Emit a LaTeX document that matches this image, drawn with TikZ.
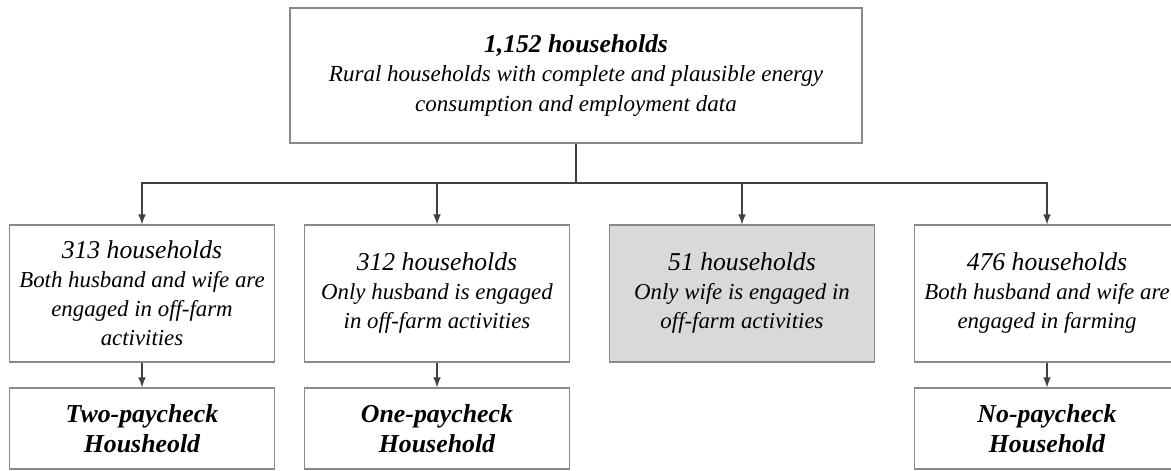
\documentclass[tikz,border=0pt]{standalone}
\usepackage{fontspec}
\setmainfont{Liberation Serif}
\definecolor{boxgray}{HTML}{8A8A8A}
\definecolor{linegray}{HTML}{404040}
\definecolor{fillgray}{HTML}{D9D9D9}
\newcommand{\headsize}{\fontsize{14.6}{16.5}\selectfont}

\begin{document}
\begin{tikzpicture}[
    box/.style={draw=boxgray, line width=0.6pt, minimum width=5.3cm, minimum height=2.74cm,
      align=center, font=\itshape\fontsize{13}{16.5}\selectfont},
    result/.style={box, minimum height=1.62cm, font=\bfseries\itshape\fontsize{14.7}{17}\selectfont},
    arr/.style={-latex, draw=linegray, line width=1pt}]
      \clip (0, 0) rectangle (23.42, -9.4);

      \node[box, minimum width=11.44cm, minimum height=2.7cm, font=\itshape\fontsize{13.1}{17}\selectfont] (0) at (11.52, -1.51)
        {{\headsize\bfseries 1,152 households}\\Rural households with complete and plausible energy\\consumption and employment data};

      \node[box] (1) at (2.84, -5.87)
        {{\headsize 313 households}\\Both husband and wife are\\engaged in off-farm\\activities};
      \node[box] (2) at (8.74, -5.87)
        {{\headsize 312 households}\\Only husband is engaged\\in off-farm activities};
      \node[box, fill=fillgray] (3) at (14.84, -5.87)
        {{\headsize 51 households}\\Only wife is engaged in\\off-farm activities};
      \node[box] (4) at (20.94, -5.87)
        {{\headsize 476 households}\\Both husband and wife are\\engaged in farming};

      \node[result] (5) at (2.84, -8.57) {Two-paycheck\\Housheold};
      \node[result] (6) at (8.74, -8.57) {One-paycheck\\Household};
      \node[result] (7) at (20.94, -8.57) {No-paycheck\\Household};

      \coordinate (b) at (11.52, -3.66);
      \draw[linegray, line width=1pt] (0) -- (b);
      \draw[arr] (b) -| (1);
      \draw[arr] (b) -| (2);
      \draw[arr] (b) -| (3);
      \draw[arr] (b) -| (4);

      \draw (1) edge[arr] (5);
      \draw (2) edge[arr] (6);
      \draw (4) edge[arr] (7);

    \end{tikzpicture}
\end{document}
